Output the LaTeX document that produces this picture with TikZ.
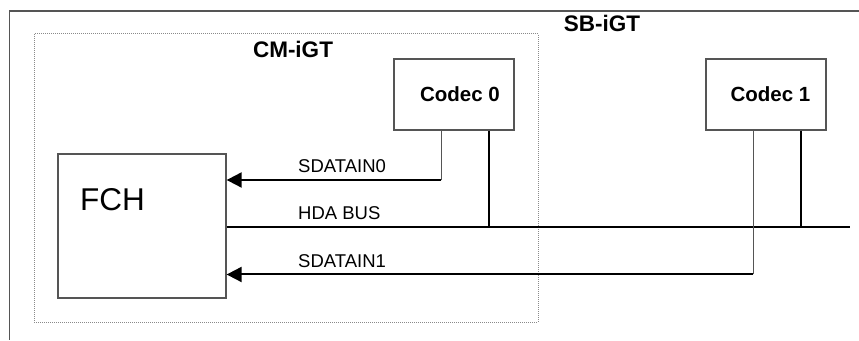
\documentclass[tikz,border=0pt]{standalone}
\usepackage{fontspec}
\setmainfont{Liberation Sans}
\usetikzlibrary{arrows.meta,calc}
\definecolor{edgegray}{HTML}{555555}
\definecolor{dotgray}{HTML}{8A8A8A}
\begin{document}
\begin{tikzpicture}[x=1pt,y=1pt,
  codecbox/.style={draw=edgegray, line width=1.3pt, minimum width=120pt, minimum height=71pt, inner sep=0pt, font=\bfseries\fontsize{20.5}{24}\selectfont},
  grouplabel/.style={inner sep=0pt, font=\bfseries\fontsize{22.5}{26}\selectfont},
  siglabel/.style={inner sep=0pt, anchor=west, font=\fontsize{18.5}{21}\selectfont},
  thinwire/.style={draw=edgegray, line width=1.3pt},
  wire/.style={draw=black, line width=2pt},
  sig/.style={wire, -{Triangle[length=15pt,width=15pt]}}]
\useasboundingbox (0,0) rectangle (859,340);
% outer SB-iGT frame (open)
\coordinate (frameTR) at (859,329);
\coordinate (frameBL) at (9.5,0);
\draw[edgegray, line width=1.3pt] (frameTR) -- (frameTR -| frameBL) -- (frameBL);
\node[grouplabel] (sblabel) at (602,317) {SB-iGT};
% CM-iGT dotted region
\draw[dotgray, line width=1pt, dash pattern=on 1pt off 1pt] (34,306) rectangle (538,18);
\node[grouplabel] (cmlabel) at (293,290.5) {CM-iGT};
% blocks
\node[codecbox] (codec0) at (454,245.5) {\hspace*{12pt}Codec 0};
\node[codecbox] (codec1) at (766,245.5) {\hspace*{9pt}Codec 1};
\node[draw=edgegray, line width=1.3pt, minimum width=168pt, minimum height=144pt, inner sep=0pt,
  label={[inner sep=0pt, xshift=-29.5pt, yshift=26.5pt, font=\fontsize{31.5}{36}\selectfont]center:FCH}] (fch) at (142,114) {};
% signal levels
\coordinate (sd0) at (0,160);
\coordinate (busend) at (850,113);
\coordinate (sd1) at (0,65.5);
% codec pins
\coordinate (c0a) at ($(codec0.south west)+(48,0)$);
\coordinate (c0b) at ($(codec0.south west)+(96,0)$);
\coordinate (c1a) at ($(codec1.south west)+(48,0)$);
\coordinate (c1b) at ($(codec1.south west)+(96,0)$);
% SDATAIN0
\draw[thinwire] (c0a) -- (c0a |- sd0);
\draw[sig] (c0a |- sd0) -- (fch.east |- sd0);
\node[siglabel] (lsd0) at (298,173.5) {SDATAIN0};
% HDA BUS
\draw[wire] (fch.east |- busend) -- (busend);
\draw[wire] (c0b) -- (c0b |- busend);
\draw[wire] (c1b) -- (c1b |- busend);
\node[siglabel] (lbus) at (298,126.5) {HDA BUS};
% SDATAIN1
\draw[thinwire] (c1a) -- (c1a |- sd1);
\draw[sig] (c1a |- sd1) -- (fch.east |- sd1);
\node[siglabel] (lsd1) at (298,78.5) {SDATAIN1};
\end{tikzpicture}
\end{document}
